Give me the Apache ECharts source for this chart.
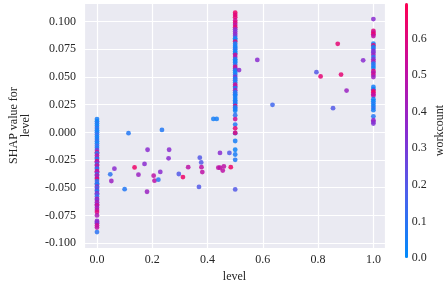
<!DOCTYPE html>
<html><head><meta charset="utf-8">
<script src="https://cdn.jsdelivr.net/npm/echarts@6/dist/echarts.min.js"></script>
<style>html,body{margin:0;padding:0;background:#fff}#c{width:445px;height:288px}</style>
</head><body><div id="c"></div>
<script>
// SHAP dependence data: level (x), SHAP value (y), workcount (colour)
const col0Level = 0.0;
const col0Shap = [0.012,0.010,0.008,0.006,0.004,0.002,0.000,-0.002,-0.004,-0.006,-0.008,-0.010,-0.012,-0.014,-0.016,
  -0.018,-0.019,-0.021,-0.023,-0.024,-0.026,-0.027,-0.029,-0.030,-0.032,-0.033,-0.035,-0.036,-0.038,-0.039,-0.041,-0.042,-0.044,
  -0.046,-0.047,-0.049,-0.050,-0.052,-0.053,-0.055,-0.056,-0.058,-0.060,-0.061,
  -0.063,-0.065,-0.066,-0.068,-0.070,-0.072,-0.075,-0.080,-0.081,-0.082,-0.084,-0.086,-0.090];
const col0Work = [0.05,0.03,0.08,0.02,0.10,0.05,0.04,0.12,0.03,0.06,0.10,0.02,0.15,0.05,0.30,
  0.60,0.08,0.50,0.45,0.05,0.65,0.40,0.10,0.55,0.35,0.07,0.60,0.45,0.10,0.50,0.30,0.62,0.08,
  0.20,0.05,0.50,0.15,0.30,0.07,0.40,0.25,0.10,0.50,0.30,
  0.45,0.35,0.55,0.40,0.50,0.60,0.45,0.35,0.38,0.33,0.55,0.50,0.10];

const colHalfLevel = 0.5;
const colHalfShap = [0.108,0.106,0.104,0.101,0.099,0.097,0.095,0.093,0.091,0.089,0.087,
  0.085,0.0835,0.082,0.080,0.078,0.0765,0.075,0.073,0.0715,0.070,0.068,0.066,0.0645,0.063,0.061,0.059,0.0575,0.056,0.054,0.052,
  0.050,0.0485,0.047,0.045,0.043,0.0415,0.040,0.038,0.036,0.0345,0.033,0.031,0.029,0.0275,0.026,0.024,0.0225,0.021,0.0195,
  0.0155,0.012,0.007,0.0036,-0.0007,-0.0005,-0.0078,-0.0157,-0.020,-0.0248,-0.0515];
const colHalfWork = [0.65,0.60,0.62,0.55,0.60,0.50,0.63,0.35,0.32,0.38,0.30,
  0.05,0.02,0.60,0.04,0.08,0.03,0.10,0.05,0.02,0.55,0.45,0.07,0.03,0.05,0.10,0.60,0.40,0.06,0.02,0.08,
  0.35,0.04,0.12,0.05,0.55,0.50,0.03,0.42,0.06,0.10,0.04,0.07,0.02,0.09,0.05,0.60,0.03,0.08,0.04,
  0.10,0.55,0.08,0.62,0.05,0.60,0.05,0.03,0.06,0.08,0.20];

const col1Level = 1.0;
const col1Shap = [0.1023,0.0915,0.090,0.0885,0.087,0.080,0.0785,0.077,0.0755,0.0735,0.072,0.070,0.068,0.066,0.064,0.062,0.060,0.058,
  0.0555,0.054,0.052,0.050,0.041,0.039,0.0375,0.036,0.0345,0.033,0.030,0.028,0.026,0.024,0.022,0.020,0.0145,0.011,0.0095,0.008];
const col1Work = [0.35,0.60,0.55,0.65,0.50,0.05,0.62,0.03,0.08,0.35,0.30,0.40,0.10,0.32,0.45,0.05,0.10,0.02,
  0.60,0.45,0.55,0.40,0.05,0.02,0.60,0.65,0.55,0.50,0.05,0.02,0.08,0.03,0.10,0.05,0.08,0.35,0.40,0.32];

const scatterLevel = [0.635,0.421,0.433,0.114,0.235,0.183,0.261,0.259,0.172,0.063,0.136,0.048,0.052,0.150,0.205,0.229,0.208,0.222,
  0.100,0.181,0.296,0.311,0.330,0.372,0.377,0.378,0.381,0.369,0.445,0.479,0.439,0.445,0.459,0.455,0.484,
  0.580,0.514,0.871,0.963,0.794,0.809,0.883,0.903,0.854];
const scatterShap = [0.0249,0.0121,0.0121,-0.0007,0.0022,-0.0157,-0.0157,-0.0234,-0.0285,-0.0328,-0.0317,-0.0379,-0.0439,-0.0382,-0.0391,-0.0357,-0.0436,-0.0427,
  -0.0513,-0.0536,-0.0376,-0.0404,-0.0314,-0.0229,-0.0271,-0.0314,-0.0359,-0.0493,-0.0186,-0.0186,-0.0319,-0.0319,-0.0308,-0.0345,-0.0314,
  0.0654,0.0562,0.0799,0.065,0.0543,0.0505,0.0522,0.0377,0.0218];
const scatterWork = [0.15,0.05,0.05,0.08,0.08,0.35,0.35,0.35,0.35,0.35,0.65,0.10,0.40,0.40,0.50,0.35,0.50,0.10,
  0.08,0.40,0.20,0.65,0.50,0.20,0.20,0.50,0.50,0.20,0.35,0.20,0.50,0.50,0.50,0.50,0.65,
  0.35,0.35,0.62,0.35,0.20,0.62,0.62,0.40,0.20];

const xTicks = [0.0,0.2,0.4,0.6,0.8,1.0];
const yTicks = [-0.100,-0.075,-0.050,-0.025,0.000,0.025,0.050,0.075,0.100];
const cbTicks = [0.0,0.1,0.2,0.3,0.4,0.5,0.6];
const workMax = 0.697;

const pts = [];
col0Shap.forEach((v,i)=>pts.push([col0Level, v, col0Work[i]]));
colHalfShap.forEach((v,i)=>pts.push([colHalfLevel, v, colHalfWork[i]]));
col1Shap.forEach((v,i)=>pts.push([col1Level, v, col1Work[i]]));
scatterLevel.forEach((v,i)=>pts.push([v, scatterShap[i], scatterWork[i]]));

const cmap = ['#008bfb','#4b61ec','#8a2bd0','#c50ea0','#ff0052'];
const font = 'Liberation Serif';
const txt = '#262626';
function onTick(v, ticks){ return ticks.some(t=>Math.abs(t-v)<1e-9); }

const chart = echarts.init(document.getElementById('c'));
chart.setOption({
  animation:false,
  backgroundColor:'#fff',
  grid:[
    {left:72,right:60,top:3,bottom:26,show:true,backgroundColor:'#eaeaf2',borderWidth:0},
    {left:405,width:3,top:3,bottom:30,show:false}
  ],
  xAxis:[
    {type:'value',gridIndex:0,min:-0.047,max:1.042,splitNumber:5,minInterval:0.2,maxInterval:0.2,
     axisLine:{show:false},axisTick:{show:false},
     splitLine:{lineStyle:{color:'#fff',width:1.2}},
     axisLabel:{margin:6,fontFamily:font,fontSize:12,color:txt,
       formatter:v=>onTick(v,xTicks)?v.toFixed(1):''},
     name:'level',nameLocation:'middle',nameGap:15,
     nameTextStyle:{fontFamily:font,fontSize:12,color:txt}},
    {type:'category',gridIndex:1,data:['c'],show:false}
  ],
  yAxis:[
    {type:'value',gridIndex:0,min:-0.1045,max:0.1168,minInterval:0.025,maxInterval:0.025,
     axisLine:{show:false},axisTick:{show:false},
     splitLine:{lineStyle:{color:'#fff',width:1.2}},
     axisLabel:{margin:8,fontFamily:font,fontSize:12,color:txt,
       formatter:v=>onTick(v,yTicks)?v.toFixed(3):''},
     name:'SHAP value for\nlevel',nameLocation:'middle',nameGap:52,nameRotate:90,
     nameTextStyle:{fontFamily:font,fontSize:12,color:txt,lineHeight:12}},
    {type:'value',gridIndex:1,position:'right',min:0,max:workMax,minInterval:0.1,maxInterval:0.1,
     axisLine:{show:false},axisTick:{show:false},splitLine:{show:false},
     axisLabel:{margin:6,fontFamily:font,fontSize:12,color:txt,
       formatter:v=>onTick(v,cbTicks)?v.toFixed(1):''},
     name:'workcount',nameLocation:'middle',nameGap:28,nameRotate:90,
     nameTextStyle:{fontFamily:font,fontSize:12,color:txt}}
  ],
  visualMap:{show:true,type:'continuous',seriesIndex:[0],dimension:2,min:0,max:workMax,
    calculable:false,showLabel:false,text:null,padding:0,
    left:405,top:3,itemWidth:3,itemHeight:255,
    inRange:{color:cmap}},
  series:[
    {type:'scatter',xAxisIndex:0,yAxisIndex:0,data:pts,symbolSize:4.8,
     itemStyle:{opacity:0.85}}
  ]
});
</script></body></html>
